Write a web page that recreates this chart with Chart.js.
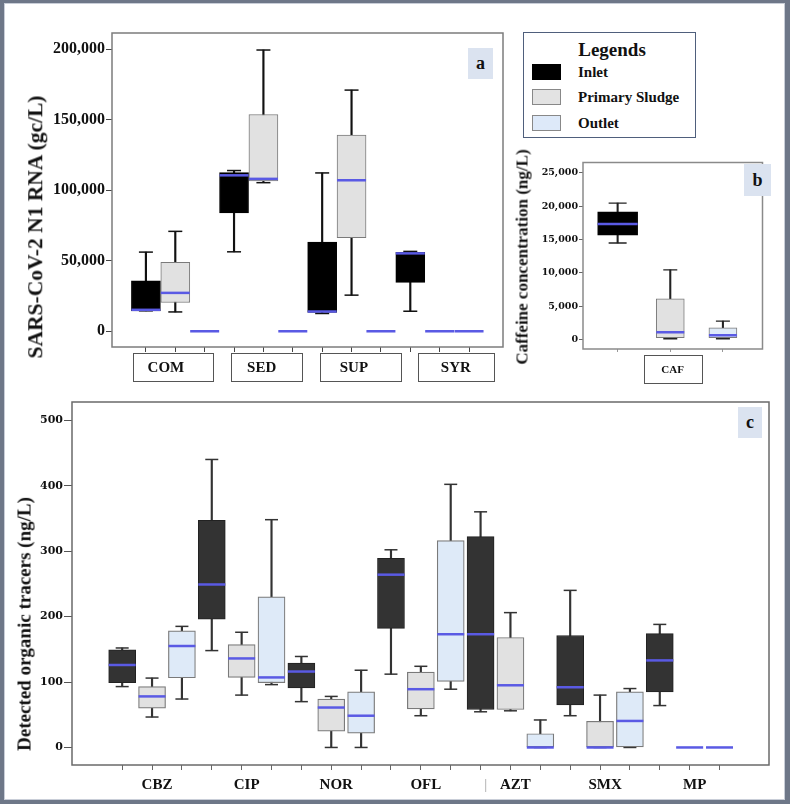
<!DOCTYPE html>
<html><head><meta charset="utf-8">
<script src="https://cdn.jsdelivr.net/npm/chart.js"></script>
<style>
html,body{margin:0;padding:0;background:#fff;}
#fig{position:relative;width:790px;height:804px;overflow:hidden;background:#fff;}
#frame{position:absolute;left:0;top:0;width:790px;height:804px;box-sizing:border-box;border-style:solid;border-color:#6e7788;border-width:3px 5px 4px 4px;box-shadow:inset 0 0 0 1px #c9ced8;pointer-events:none;z-index:6}
canvas{position:absolute;}
.t{position:absolute;font-family:'Liberation Serif','Times New Roman',serif;font-weight:bold;color:#111;white-space:nowrap;z-index:4;line-height:1}
.rot{transform:translate(-50%,-50%) rotate(-90deg);}
.tag{position:absolute;background:#dbe3f0;font-family:'Liberation Serif',serif;font-weight:bold;color:#111;display:flex;align-items:center;justify-content:center;z-index:4}
#legend{position:absolute;left:523px;top:32px;width:173px;height:106px;border:1px solid #4f5f7c;box-sizing:border-box;background:#fff;z-index:4}
.sw{position:absolute;left:8px;width:29px;height:16px;box-sizing:border-box;border:1px solid #888}
.lt{position:absolute;left:54px;font-family:'Liberation Serif',serif;font-weight:bold;font-size:15px;color:#111;line-height:1;transform:translateY(-50%)}
</style>
</head>
<body>
<div id="fig">
  <canvas id="cA" width="520" height="395" style="left:0;top:0"></canvas>
  <canvas id="cB" width="265" height="250" style="left:520px;top:140px"></canvas>
  <canvas id="cC" width="785" height="414" style="left:0;top:386px"></canvas>

  <div class="t rot" style="left:36px;top:227px;font-size:21.5px">SARS-CoV-2 N1 RNA (gc/L)</div>
  <div class="t rot" style="left:522px;top:257px;font-size:17px">Caffeine concentration (ng/L)</div>
  <div class="t rot" style="left:24px;top:624px;font-size:19px">Detected organic tracers (ng/L)</div>

  <div class="tag" style="left:468px;top:48px;width:25px;height:31px;font-size:18px">a</div>
  <div class="tag" style="left:744px;top:164px;width:27px;height:32px;font-size:18px">b</div>
  <div class="tag" style="left:738px;top:407px;width:24px;height:31px;font-size:18px">c</div>

  <div id="legend">
    <div class="t" style="left:88px;top:16px;font-size:19px;transform:translate(-50%,-50%)">Legends</div>
    <div class="sw" id="sw0" style="top:31px"></div>
    <div class="sw" id="sw1" style="top:56px"></div>
    <div class="sw" id="sw2" style="top:82px"></div>
    <div class="lt" id="lt0" style="top:39px"></div>
    <div class="lt" id="lt1" style="top:64px"></div>
    <div class="lt" id="lt2" style="top:90px"></div>
  </div>
  <div id="frame"></div>
</div>
<script>
// ---------- DATA: each entry is [min, Q1, median, Q3, max] ----------
const seriesNames = ['Inlet', 'Primary Sludge', 'Outlet'];

// Panel a : SARS-CoV-2 N1 RNA (gc/L)
const aCategories = ['COM', 'SED', 'SUP', 'SYR'];
const aInlet  = [[14500,14500,15200,35700,56100],[56300,83800,110500,112400,113900],[12600,13300,14000,63200,112200],[14200,34600,55200,55900,56600]];
const aSludge = [[13700,20400,27200,48800,70800],[105300,106500,108000,153600,199300],[25600,66300,107000,139000,170900],[0,0,0,0,0]];
const aOutlet = [[0,0,0,0,0],[0,0,0,0,0],[0,0,0,0,0],[0,0,0,0,0]];
const aYTicks = [0, 50000, 100000, 150000, 200000];

// Panel b : Caffeine (ng/L)
const bCategories = ['CAF'];
const bInlet  = [[14470,15630,17310,19140,20440]];
const bSludge = [[100,240,1060,6100,10430]];
const bOutlet = [[100,240,620,1730,2740]];
const bYTicks = [0, 5000, 10000, 15000, 20000, 25000];

// Panel c : organic tracers (ng/L)
const cCategories = ['CBZ', 'CIP', 'NOR', 'OFL', 'AZT', 'SMX', 'MP'];
const cInlet  = [[93,99,126,149,152],[148,196,249,347,440],[70,91,116,129,139],[112,182,264,289,302],[54.5,58,173,322,360],[48.5,65,92,171,240],[64,85,133,174,188]];
const cSludge = [[46.5,60,78,93,106],[80,107,136,157,176],[0,25,61,74,78],[48.5,59,89,115,124],[56,58,95,168,206],[0,0,0,40,80],[0,0,0,0,0]];
const cOutlet = [[74,106.5,155,178,185],[96,99,107,230,348],[0,22,48.5,85,118],[89,101,173,316,402],[0,0,0,21,42],[0,0,40.5,85,90],[0,0,0,0,0]];
const cYTicks = [0, 100, 200, 300, 400, 500];

// ---------- STYLE ----------
const SERIF = "'Liberation Serif','Times New Roman',serif";
const WIDE = "'DejaVu Serif',serif";
const MEDIAN = '#5a5ae4';
const SLUDGE_FILL = '#e1e1e1', OUTLET_FILL = '#deeaf8', BOX_EDGE = '#7a7a7a';

// legend
['#000000', '#e3e3e3', '#dde9f9'].forEach((c, i) => {
  const s = document.getElementById('sw' + i);
  s.style.background = c;
  if (i === 0) s.style.borderColor = '#000';
  document.getElementById('lt' + i).textContent = seriesNames[i];
});

function boxDatasets(groups, whiskerColor, whiskerW) {
  const out = [];
  groups.forEach((g, gi) => {
    const wh = [], caps = [], boxes = [], meds = [];
    g.values.forEach((v, i) => {
      const x = i * 3 + gi;
      const [mn, q1, md, q3, mx] = v;
      if (mx > mn) { wh.push({x, y: [mn, mx]}); caps.push({x, y: mn}, {x, y: mx}); }
      if (q3 > q1) boxes.push({x, y: [q1, q3]});
      meds.push({x, y: md});
    });
    out.push({type: 'bar', label: g.name + ' range', data: wh, backgroundColor: whiskerColor, borderWidth: 0,
      barThickness: whiskerW, grouped: false, order: 4});
    out.push({type: 'scatter', label: g.name + ' caps', data: caps, pointStyle: 'line', pointRadius: g.cap,
      pointHoverRadius: g.cap, pointBorderColor: whiskerColor, pointBackgroundColor: whiskerColor,
      pointBorderWidth: whiskerW, order: 3});
    out.push({type: 'bar', label: g.name, data: boxes, backgroundColor: g.fill, borderColor: g.border,
      borderWidth: g.bw, borderSkipped: false, barThickness: g.thick, grouped: false, order: 2});
    out.push({type: 'scatter', label: g.name + ' median', data: meds, pointStyle: 'line', pointRadius: g.thick / 2,
      pointHoverRadius: g.thick / 2, pointBorderColor: MEDIAN, pointBorderWidth: 2.5, order: 1});
  });
  return out;
}

const fit = size => scale => {
  if (scale.isHorizontal()) scale.height = size; else scale.width = size;
  scale.paddingTop = scale.paddingBottom = scale.paddingLeft = scale.paddingRight = 0;
};
const setTicks = vals => axis => { axis.ticks = vals.map(v => ({value: v})); };
const range = n => Array.from({length: n}, (_, i) => i);

const framePlugin = {
  id: 'frame',
  beforeDatasetsDraw(chart, args, o) {
    const {ctx, chartArea: a} = chart;
    ctx.save();
    ctx.strokeStyle = o.color || '#777';
    ctx.lineWidth = o.width || 1.5;
    ctx.strokeRect(a.left, a.top, a.right - a.left, a.bottom - a.top);
    ctx.restore();
  }
};
const catBoxPlugin = {
  id: 'catBoxes',
  afterDraw(chart, args, o) {
    if (!o || !o.spans) return;
    const {ctx, chartArea} = chart;
    const xs = chart.scales.x;
    ctx.save();
    o.spans.forEach((sp, i) => {
      const x0 = Math.round(xs.getPixelForValue(sp[0])) + 0.5;
      const x1 = Math.round(xs.getPixelForValue(sp[1])) + 0.5;
      const y0 = Math.round(chartArea.bottom + o.top) + 0.5;
      const y1 = Math.round(chartArea.bottom + o.bottom) + 0.5;
      ctx.fillStyle = '#fff';
      ctx.fillRect(x0, y0, x1 - x0, y1 - y0);
      ctx.strokeStyle = o.color; ctx.lineWidth = 1;
      ctx.strokeRect(x0, y0, x1 - x0, y1 - y0);
      ctx.fillStyle = '#111';
      ctx.font = o.font;
      ctx.textAlign = 'center'; ctx.textBaseline = 'middle';
      ctx.fillText(o.labels[i], xs.getPixelForValue(o.textAt[i]), (y0 + y1) / 2 + 1);
    });
    ctx.restore();
  }
};

function makeChart(id, c) {
  return new Chart(document.getElementById(id), {
    type: 'bar',
    data: {datasets: c.datasets},
    plugins: [framePlugin, catBoxPlugin],
    options: {
      responsive: false, animation: false, devicePixelRatio: 1, events: [],
      layout: {padding: c.pad},
      plugins: {legend: {display: false}, tooltip: {enabled: false},
        frame: {color: c.frameColor, width: 1.5}, catBoxes: c.catBoxes || {}},
      scales: {
        x: {type: 'linear', min: c.xMin, max: c.xMax, offset: false,
          afterBuildTicks: setTicks(c.xSlots), afterFit: fit(c.xH),
          grid: {offset: false, drawOnChartArea: false, drawTicks: true, tickLength: c.xTickLen, color: c.xTickColor, tickColor: c.xTickColor},
          border: {display: false},
          ticks: {autoSkip: false, maxRotation: 0, minRotation: 0, padding: c.xPad || 3, labelOffset: c.labelOffset || 0,
            font: c.xFont || {family: SERIF, size: 15, weight: 'bold'},
            color: c.xColor || '#111', callback: c.xLabel}},
        y: {type: 'linear', min: c.yMin, max: c.yMax, beginAtZero: false,
          afterBuildTicks: setTicks(c.yTicks), afterFit: fit(c.yW),
          grid: {drawOnChartArea: false, drawTicks: true, tickLength: c.yTickLen, color: c.yTickColor, tickColor: c.yTickColor},
          border: {display: false},
          ticks: {padding: 1, font: c.yFont, color: '#111', callback: v => v.toLocaleString('en-US')}}
      }
    }
  });
}

// Panel a
makeChart('cA', {
  datasets: boxDatasets([
    {name: seriesNames[0], values: aInlet, fill: '#000', border: '#000', bw: 1, thick: 29, cap: 7},
    {name: seriesNames[1], values: aSludge, fill: SLUDGE_FILL, border: BOX_EDGE, bw: 1, thick: 29, cap: 7},
    {name: seriesNames[2], values: aOutlet, fill: OUTLET_FILL, border: BOX_EDGE, bw: 1, thick: 29, cap: 7}
  ], '#111', 1.5),
  pad: {left: 0, top: 33, right: 16, bottom: 0},
  xMin: -1.1545, xMax: 12.156, xSlots: range(aCategories.length * 3), xH: 48, xTickLen: 5, xTickColor: '#444',
  xLabel: () => '',
  yMin: -11147, yMax: 211360, yTicks: aYTicks, yW: 112, yTickLen: 6, yTickColor: '#444',
  yFont: {family: SERIF, size: 16, weight: 'bold'},
  frameColor: '#7c7c7c',
  catBoxes: {labels: aCategories, spans: [[-0.44, 2.27], [2.89, 5.3], [5.93, 8.69], [9.27, 11.85]],
    textAt: [0.68, 3.94, 7.08, 10.55], top: 5.7, bottom: 33.7, color: '#555',
    font: "bold 15px 'Liberation Serif', serif"}
});

// Panel b
makeChart('cB', {
  datasets: boxDatasets([
    {name: seriesNames[0], values: bInlet, fill: '#000', border: '#000', bw: 1, thick: 40, cap: 9},
    {name: seriesNames[1], values: bSludge, fill: SLUDGE_FILL, border: BOX_EDGE, bw: 1, thick: 28, cap: 7},
    {name: seriesNames[2], values: bOutlet, fill: OUTLET_FILL, border: BOX_EDGE, bw: 1, thick: 28, cap: 7}
  ], '#222', 1.4),
  pad: {left: 0, top: 15, right: 2, bottom: 0},
  xMin: -0.658, xMax: 2.752, xSlots: range(bCategories.length * 3), xH: 41, xTickLen: 3, xTickColor: '#999',
  xLabel: () => '',
  yMin: -1443, yMax: 26543, yTicks: bYTicks, yW: 63, yTickLen: 4, yTickColor: '#666',
  yFont: {family: WIDE, size: 9.5, weight: 'bold'},
  frameColor: '#8a8a8a',
  catBoxes: {labels: bCategories, spans: [[0.494, 1.606]], textAt: [1.045], top: 6, bottom: 34, color: '#555',
    font: "bold 11px 'Liberation Serif', serif"}
});

// Panel c
makeChart('cC', {
  datasets: boxDatasets([
    {name: seriesNames[0], values: cInlet, fill: '#333333', border: '#222', bw: 1, thick: 27, cap: 6.5},
    {name: seriesNames[1], values: cSludge, fill: SLUDGE_FILL, border: BOX_EDGE, bw: 1.2, thick: 27, cap: 6.5},
    {name: seriesNames[2], values: cOutlet, fill: OUTLET_FILL, border: BOX_EDGE, bw: 1.2, thick: 27, cap: 6.5}
  ], '#333', 1.5),
  pad: {left: 0, top: 6, right: 5, bottom: 0},
  xMin: -1.68, xMax: 21.657, xSlots: range(cCategories.length * 3), xH: 35, xTickLen: 5, xTickColor: '#666',
  xPad: 6, labelOffset: 5,
  xLabel: v => (v % 3 === 1 ? cCategories[(v - 1) / 3] : (v === 12 ? '|' : '')),
  xColor: ctx => (ctx.tick && ctx.tick.value === 12 ? '#bbbbbb' : '#111'),
  yMin: -26.8, yMax: 527.8, yTicks: cYTicks, yW: 72, yTickLen: 8, yTickColor: '#555',
  yFont: {family: WIDE, size: 11, weight: 'bold'},
  frameColor: '#6a6a6a'
});
</script>
</body></html>
